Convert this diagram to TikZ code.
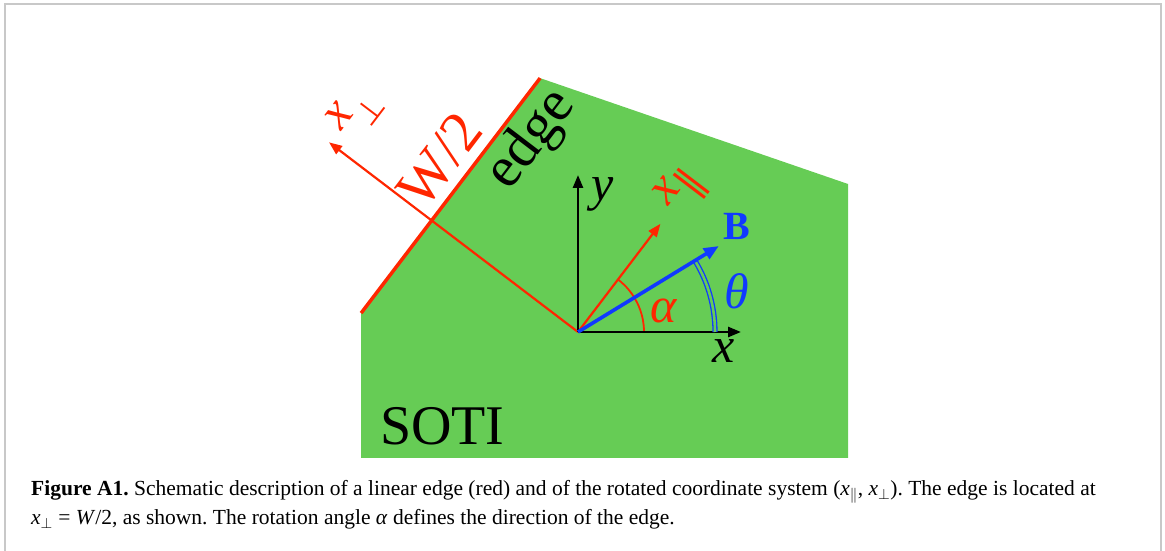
\RequirePackage{fix-cm}
\documentclass[tikz,border=0pt]{standalone}
\usepackage{fontspec}
\setmainfont{Liberation Serif}
\newfontfamily\symf{DejaVu Sans}
\usetikzlibrary{arrows.meta,calc}
\definecolor{sgreen}{RGB}{102,204,85}
\definecolor{ered}{RGB}{255,38,0}
\definecolor{bblue}{RGB}{16,58,255}
\definecolor{framegray}{RGB}{200,200,200}
\frenchspacing
\begin{document}
\begin{tikzpicture}[x=1pt,y=1pt,
  redarrow/.style={draw=ered,line width=2.2pt,-{Triangle[length=13pt,width=10pt]}},
  blackarrow/.style={draw=black,line width=2.6pt,-{Triangle[length=13pt,width=10pt]}},
  bluearrow/.style={draw=bblue,line width=3.6pt,-{Triangle[length=15pt,width=12pt]}},
  lab/.style={inner sep=0pt,font=\fontsize{50}{50}\selectfont},
  biglab/.style={inner sep=0pt,font=\fontsize{58}{58}\selectfont},
  captext/.style={inner sep=0pt,anchor=base west,font=\fontsize{21.5}{25}\selectfont}]
\useasboundingbox (0,0) rectangle (1165,551);
\draw[framegray,line width=2pt] (5,-5)--(5,547)--(1161,547)--(1161,-5);
\coordinate (O) at (578,219);
\coordinate (F) at ($(O)+(142.7:184)$);
\coordinate (E1) at ($(F)+(232.7:116.4)$);
\coordinate (E2) at ($(F)+(52.7:179)$);
\coordinate (C1) at (848,367);
\coordinate (C2) at (848,93);
\coordinate (C3) at (361,93);
\fill[sgreen] (C3) -- (E1) -- (E2) -- (C1) -- (C2) -- cycle;
\draw[ered,line width=3.5pt] (E1) -- (E2);
% perpendicular and parallel axes
\coordinate (Pt) at ($(O)+(142.7:313)$);
\draw[redarrow] (O) -- (Pt);
\coordinate (Qt) at ($(O)+(52.7:136)$);
\draw[redarrow] (O) -- (Qt);
\draw[ered,line width=1.8pt] ($(O)+(0:66)$) arc[start angle=0,end angle=52.7,radius=66];
% x, y axes
\coordinate (Xt) at (741,219);
\coordinate (Yt) at (578,376);
\draw[blackarrow] (O) -- (Xt);
\draw[blackarrow] (O) -- (Yt);
% B
\coordinate (Bt) at ($(O)+(31.4:165)$);
\draw[draw=bblue,double=sgreen,line width=1.3pt,double distance=2.6pt] ($(O)+(0:137)$) arc[start angle=0,end angle=31.4,radius=137];
\draw[bluearrow] (O) -- (Bt);
% labels
\node[lab,ered,rotate=52.7] (xperp) at (355,439) {\textit{x}\hspace{-2pt}\raisebox{-0.42em}{\fontsize{32}{32}\selectfont\symf ⊥}};
\node[lab,ered,rotate=52.7] (xpar) at (682,361) {\textit{x}\raisebox{-0.32em}{\fontsize{40}{40}\selectfont\symf ∥}};
\node[biglab,ered,rotate=52.7] (w) at (440,391) {W/2};
\node[biglab,rotate=52.7] (edge) at (532,411) {edge};
\node[lab] (ylab) at (603,357) {\textit{y}};
\node[lab] (xlab) at (724,200) {\textit{x}};
\node[inner sep=0pt,bblue,font=\bfseries\fontsize{40}{40}\selectfont] (blab) at (737,325) {B};
\node[lab,bblue] (theta) at (737,260) {\textit{θ}};
\node[lab,ered] (alpha) at (664,240) {\textit{α}};
\node[inner sep=0pt,anchor=base west,font=\fontsize{56}{56}\selectfont] (soti) at (380,106) {SOTI};
% caption
\node[captext] (cap1) at (31,55) {\textbf{Figure A1.} Schematic description of a linear edge (red) and of the rotated coordinate system (\textit{x}$_\parallel$, \textit{x}$_\perp$). The edge is located at};
\node[captext] (cap2) at (31,26) {\textit{x}$_\perp$ = \textit{W}/2, as shown. The rotation angle \textit{α} defines the direction of the edge.};
\end{tikzpicture}
\end{document}
